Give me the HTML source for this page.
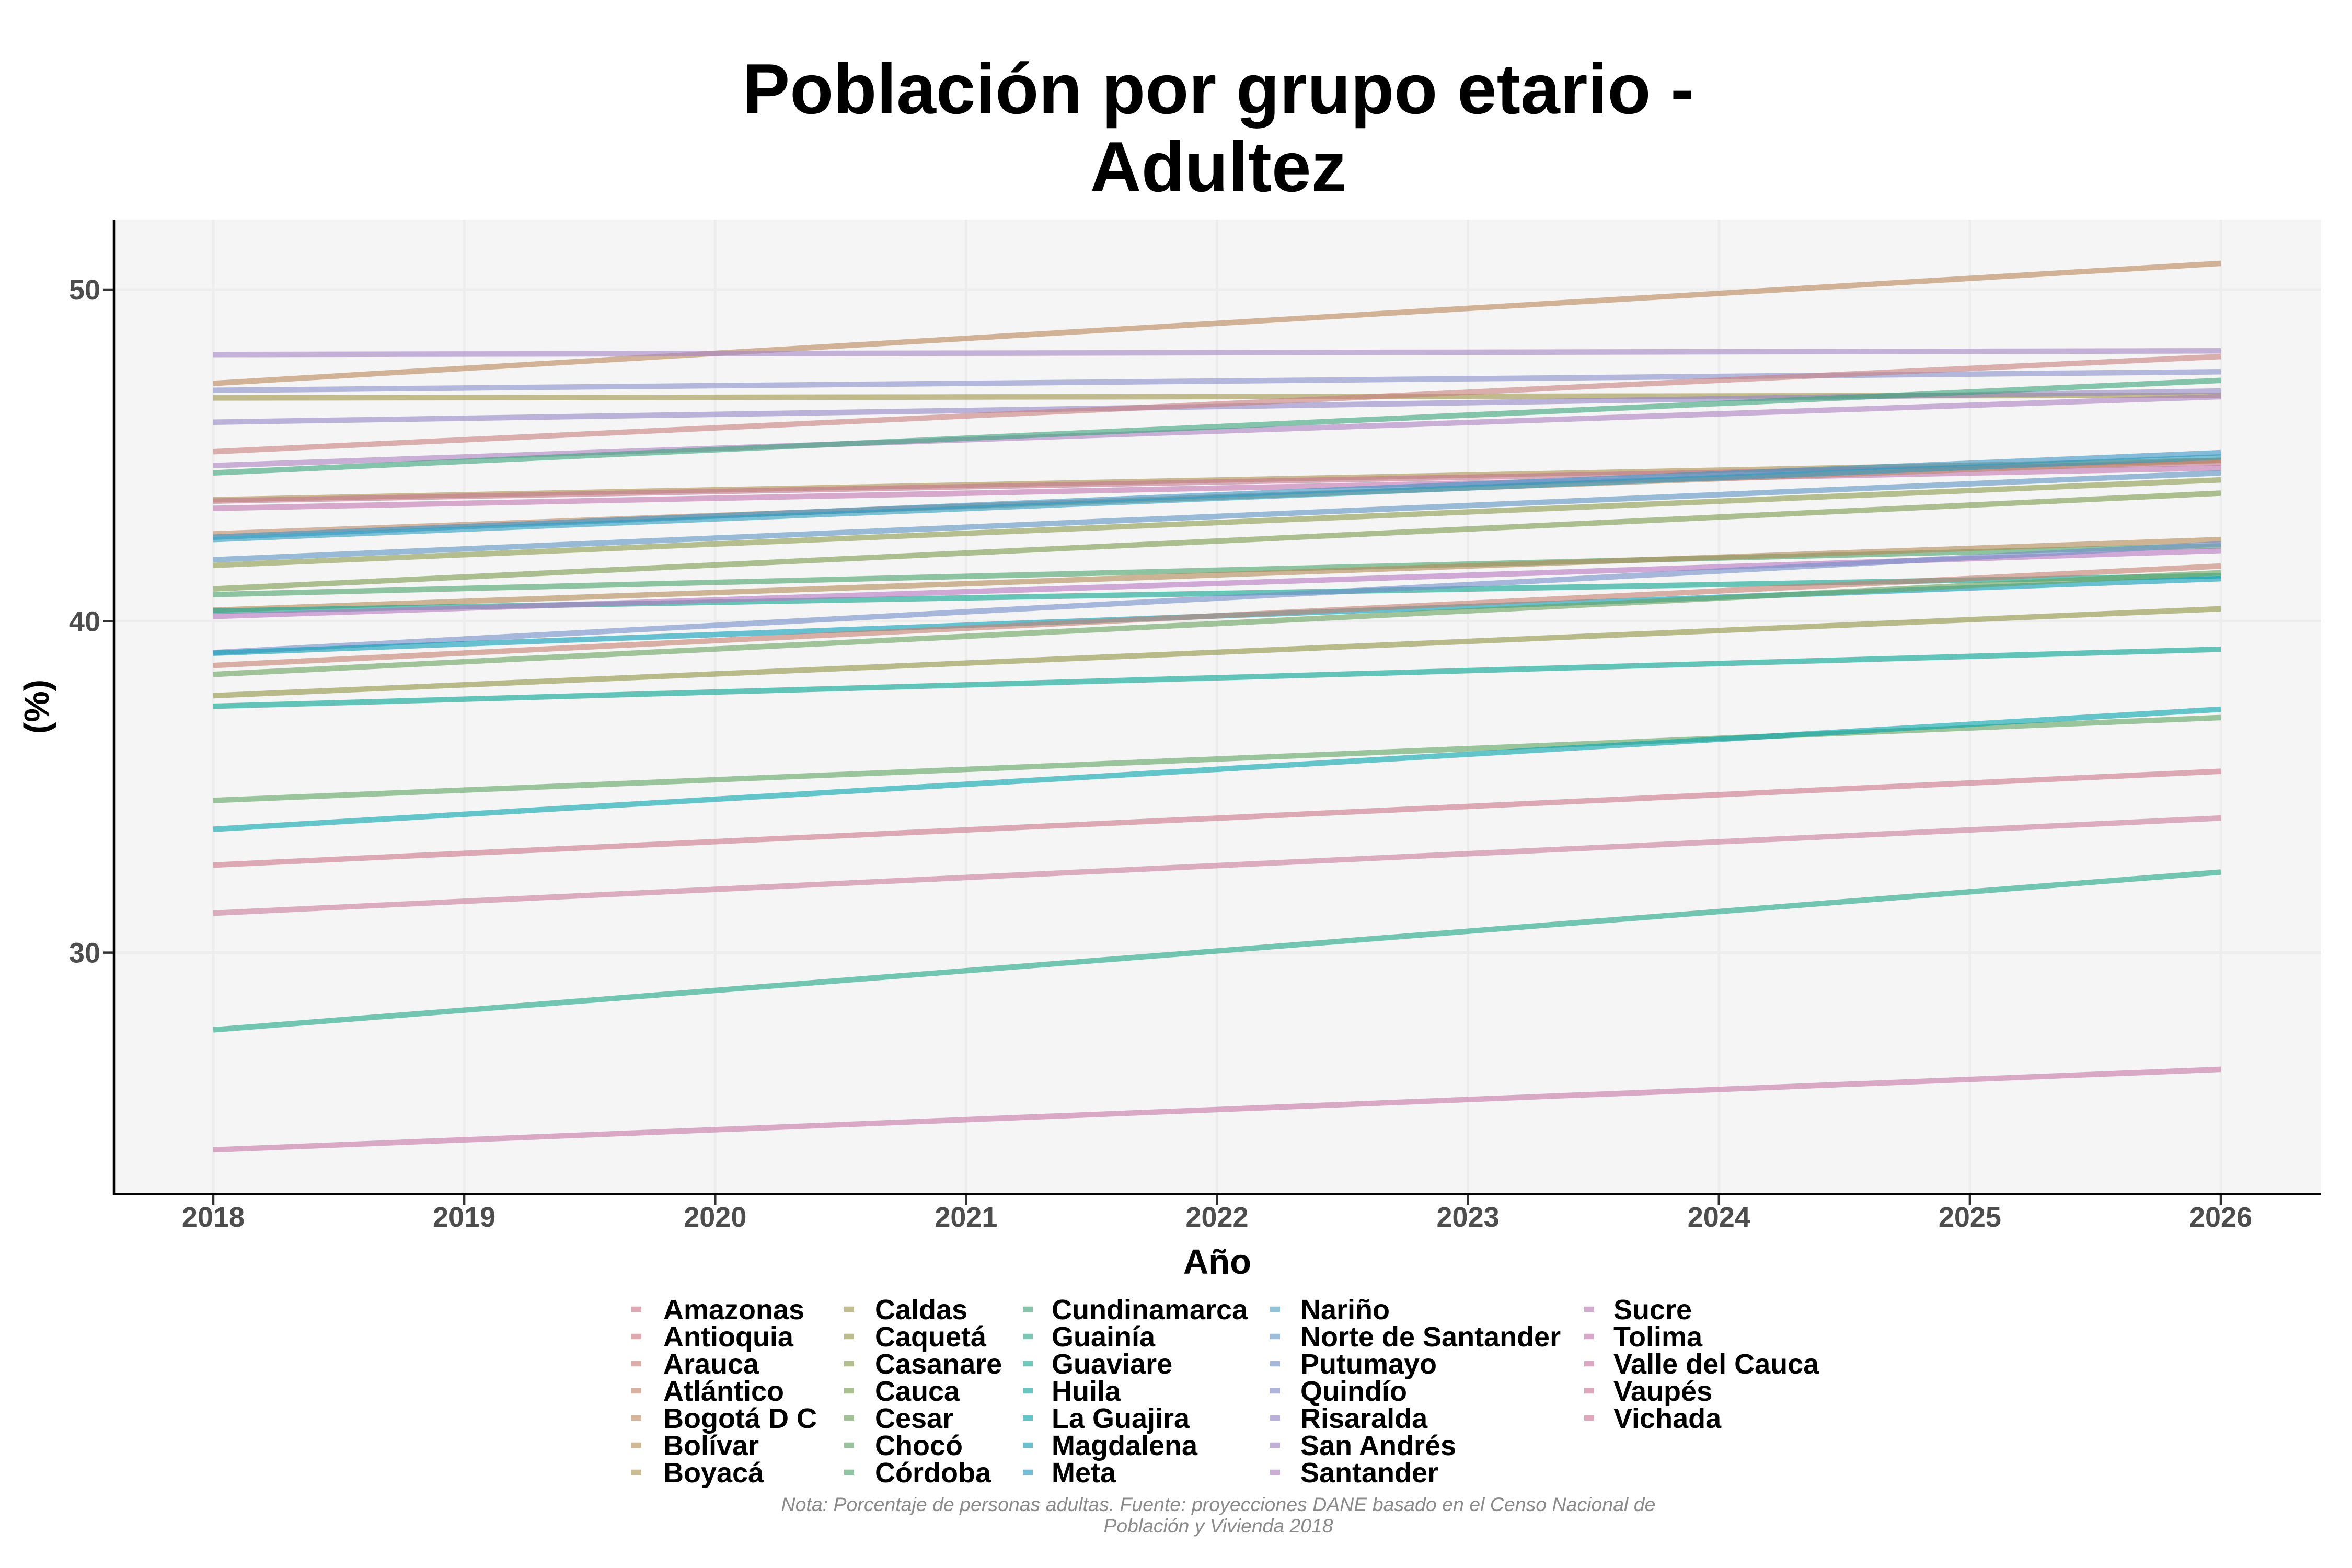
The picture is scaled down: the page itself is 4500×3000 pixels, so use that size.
<!DOCTYPE html>
<html>
<head>
<meta charset="utf-8">
<style>
html,body{margin:0;padding:0;background:#ffffff;}
svg{display:block;}
text{font-family:"Liberation Sans",Arial,sans-serif;}
</style>
</head>
<body>
<svg width="4500" height="3000" viewBox="0 0 4500 3000" xmlns="http://www.w3.org/2000/svg">
<rect x="0" y="0" width="4500" height="3000" fill="#ffffff"/>

<!-- Title -->
<text x="2331" y="217" font-size="136" font-weight="bold" text-anchor="middle" fill="#000">Población por grupo etario -</text>
<text x="2331" y="366" font-size="136" font-weight="bold" text-anchor="middle" fill="#000">Adultez</text>

<!-- Panel -->
<rect x="218" y="420" width="4223" height="1864" fill="#F5F5F5"/>

<!-- Grid -->
<g stroke="#EDEDED" stroke-width="5">
<line x1="218" y1="554" x2="4441" y2="554"/>
<line x1="218" y1="1188.3" x2="4441" y2="1188.3"/>
<line x1="218" y1="1822.6" x2="4441" y2="1822.6"/>
<line x1="408" y1="420" x2="408" y2="2284"/>
<line x1="888.1" y1="420" x2="888.1" y2="2284"/>
<line x1="1368.3" y1="420" x2="1368.3" y2="2284"/>
<line x1="1848.4" y1="420" x2="1848.4" y2="2284"/>
<line x1="2328.5" y1="420" x2="2328.5" y2="2284"/>
<line x1="2808.6" y1="420" x2="2808.6" y2="2284"/>
<line x1="3288.8" y1="420" x2="3288.8" y2="2284"/>
<line x1="3768.9" y1="420" x2="3768.9" y2="2284"/>
<line x1="4249" y1="420" x2="4249" y2="2284"/>
</g>

<!-- Series lines -->
<g stroke-width="10.5" stroke-opacity="0.6" fill="none" stroke-linecap="butt">
<line x1="408" y1="733.5" x2="4249" y2="503.9" stroke="#BB8659"/>
<line x1="408" y1="678.3" x2="4249" y2="671.3" stroke="#A483C5"/>
<line x1="408" y1="746.8" x2="4249" y2="711.3" stroke="#868DC9"/>
<line x1="408" y1="761.4" x2="4249" y2="756.3" stroke="#9D9347"/>
<line x1="408" y1="807.7" x2="4249" y2="748.1" stroke="#9386C5"/>
<line x1="408" y1="864.2" x2="4249" y2="682.1" stroke="#CA7E7F"/>
<line x1="408" y1="890.8" x2="4249" y2="758.9" stroke="#AC7EBF"/>
<line x1="408" y1="904.8" x2="4249" y2="727.8" stroke="#39A479"/>
<line x1="408" y1="956.1" x2="4249" y2="880.7" stroke="#AB904D"/>
<line x1="408" y1="958.7" x2="4249" y2="885.7" stroke="#C57590"/>
<line x1="408" y1="972.6" x2="4249" y2="895.3" stroke="#BF75B1"/>
<line x1="408" y1="1021.5" x2="4249" y2="880.7" stroke="#BB8968"/>
<line x1="408" y1="1027.8" x2="4249" y2="866.1" stroke="#3A92C4"/>
<line x1="408" y1="1032.3" x2="4249" y2="874.3" stroke="#2A9CC0"/>
<line x1="408" y1="1071.0" x2="4249" y2="904.8" stroke="#5B93C2"/>
<line x1="408" y1="1081.7" x2="4249" y2="918.1" stroke="#899A4A"/>
<line x1="408" y1="1126.8" x2="4249" y2="943.5" stroke="#799A4D"/>
<line x1="408" y1="1137.6" x2="4249" y2="1044.3" stroke="#4AA16B"/>
<line x1="408" y1="1167.4" x2="4249" y2="1032.3" stroke="#B18954"/>
<line x1="408" y1="1169.3" x2="4249" y2="1101.4" stroke="#0BA490"/>
<line x1="408" y1="1179.4" x2="4249" y2="1053.2" stroke="#B875BF"/>
<line x1="408" y1="1248.6" x2="4249" y2="1040.5" stroke="#728DC9"/>
<line x1="408" y1="1249.8" x2="4249" y2="1107.1" stroke="#079DB6"/>
<line x1="408" y1="1273.3" x2="4249" y2="1083.0" stroke="#C57E70"/>
<line x1="408" y1="1290.4" x2="4249" y2="1095.7" stroke="#68A15E"/>
<line x1="408" y1="1331.0" x2="4249" y2="1164.8" stroke="#909343"/>
<line x1="408" y1="1351.3" x2="4249" y2="1242.2" stroke="#00A490"/>
<line x1="408" y1="1531.5" x2="4249" y2="1372.9" stroke="#5EA461"/>
<line x1="408" y1="1586.6" x2="4249" y2="1357.0" stroke="#01A4AB"/>
<line x1="408" y1="1655.1" x2="4249" y2="1475.6" stroke="#CC7589"/>
<line x1="408" y1="1747.1" x2="4249" y2="1565.1" stroke="#C9799A"/>
<line x1="408" y1="1970.4" x2="4249" y2="1668.5" stroke="#1BA783"/>
<line x1="408" y1="2200.0" x2="4249" y2="2045.9" stroke="#C575A4"/>
</g>

<!-- Axes -->
<line x1="218" y1="420" x2="218" y2="2286.5" stroke="#000" stroke-width="4.5"/>
<line x1="216" y1="2284.5" x2="4441" y2="2284.5" stroke="#000" stroke-width="4.5"/>

<!-- Ticks -->
<g stroke="#333333" stroke-width="4.5">
<line x1="197" y1="554" x2="216" y2="554"/>
<line x1="197" y1="1188.3" x2="216" y2="1188.3"/>
<line x1="197" y1="1822.6" x2="216" y2="1822.6"/>
<line x1="408" y1="2286" x2="408" y2="2305"/>
<line x1="888.1" y1="2286" x2="888.1" y2="2305"/>
<line x1="1368.3" y1="2286" x2="1368.3" y2="2305"/>
<line x1="1848.4" y1="2286" x2="1848.4" y2="2305"/>
<line x1="2328.5" y1="2286" x2="2328.5" y2="2305"/>
<line x1="2808.6" y1="2286" x2="2808.6" y2="2305"/>
<line x1="3288.8" y1="2286" x2="3288.8" y2="2305"/>
<line x1="3768.9" y1="2286" x2="3768.9" y2="2305"/>
<line x1="4249" y1="2286" x2="4249" y2="2305"/>
</g>

<!-- Tick labels -->
<g font-size="54" font-weight="bold" fill="#4D4D4D">
<text x="192" y="573" text-anchor="end">50</text>
<text x="192" y="1207.3" text-anchor="end">40</text>
<text x="192" y="1841.6" text-anchor="end">30</text>
<text x="408" y="2347" text-anchor="middle">2018</text>
<text x="888.1" y="2347" text-anchor="middle">2019</text>
<text x="1368.3" y="2347" text-anchor="middle">2020</text>
<text x="1848.4" y="2347" text-anchor="middle">2021</text>
<text x="2328.5" y="2347" text-anchor="middle">2022</text>
<text x="2808.6" y="2347" text-anchor="middle">2023</text>
<text x="3288.8" y="2347" text-anchor="middle">2024</text>
<text x="3768.9" y="2347" text-anchor="middle">2025</text>
<text x="4249" y="2347" text-anchor="middle">2026</text>
</g>

<!-- Axis titles -->
<text x="2329" y="2437" font-size="67" font-weight="bold" text-anchor="middle" fill="#000">Año</text>
<text x="0" y="0" font-size="67" font-weight="bold" text-anchor="middle" fill="#000" transform="translate(93,1352) rotate(-90)">(%)</text>

<!-- Legend keys -->
<g>
<rect x="1208" y="2499.75" width="19" height="10.5" fill="#DDA8B4"/>
<rect x="1208" y="2551.75" width="19" height="10.5" fill="#DDABAF"/>
<rect x="1208" y="2603.75" width="19" height="10.5" fill="#DAAFA9"/>
<rect x="1208" y="2655.75" width="19" height="10.5" fill="#D7B2A3"/>
<rect x="1208" y="2707.75" width="19" height="10.5" fill="#D4B69D"/>
<rect x="1208" y="2759.75" width="19" height="10.5" fill="#CFB997"/>
<rect x="1208" y="2811.75" width="19" height="10.5" fill="#C9BB93"/>

<rect x="1615" y="2499.75" width="19" height="10.5" fill="#C2BC90"/>
<rect x="1615" y="2551.75" width="19" height="10.5" fill="#BBBD8F"/>
<rect x="1615" y="2603.75" width="19" height="10.5" fill="#B3BF8F"/>
<rect x="1615" y="2655.75" width="19" height="10.5" fill="#ABC091"/>
<rect x="1615" y="2707.75" width="19" height="10.5" fill="#A2C196"/>
<rect x="1615" y="2759.75" width="19" height="10.5" fill="#99C39C"/>
<rect x="1615" y="2811.75" width="19" height="10.5" fill="#8FC4A3"/>

<rect x="1957" y="2499.75" width="19" height="10.5" fill="#86C5AB"/>
<rect x="1957" y="2551.75" width="19" height="10.5" fill="#7CC6B3"/>
<rect x="1957" y="2603.75" width="19" height="10.5" fill="#72C6BA"/>
<rect x="1957" y="2655.75" width="19" height="10.5" fill="#6BC5C1"/>
<rect x="1957" y="2707.75" width="19" height="10.5" fill="#68C3C8"/>
<rect x="1957" y="2759.75" width="19" height="10.5" fill="#6CC0CE"/>
<rect x="1957" y="2811.75" width="19" height="10.5" fill="#76BDD3"/>

<rect x="2430" y="2499.75" width="19" height="10.5" fill="#92C2D8"/>
<rect x="2430" y="2551.75" width="19" height="10.5" fill="#9DBDDA"/>
<rect x="2430" y="2603.75" width="19" height="10.5" fill="#A6B8DA"/>
<rect x="2430" y="2655.75" width="19" height="10.5" fill="#AEB4DA"/>
<rect x="2430" y="2707.75" width="19" height="10.5" fill="#B9B1D9"/>
<rect x="2430" y="2759.75" width="19" height="10.5" fill="#C2AFD7"/>
<rect x="2430" y="2811.75" width="19" height="10.5" fill="#CAADD3"/>

<rect x="3031" y="2499.75" width="19" height="10.5" fill="#D1ABCE"/>
<rect x="3031" y="2551.75" width="19" height="10.5" fill="#D6A9C8"/>
<rect x="3031" y="2603.75" width="19" height="10.5" fill="#DAA8C2"/>
<rect x="3031" y="2655.75" width="19" height="10.5" fill="#DCA8BC"/>
<rect x="3031" y="2707.75" width="19" height="10.5" fill="#DDA8B7"/>
</g>

<!-- Legend labels -->
<g font-size="54" font-weight="bold" fill="#000">
<text x="1269" y="2524">Amazonas</text>
<text x="1269" y="2576">Antioquia</text>
<text x="1269" y="2628">Arauca</text>
<text x="1269" y="2680">Atlántico</text>
<text x="1269" y="2732">Bogotá D C</text>
<text x="1269" y="2784">Bolívar</text>
<text x="1269" y="2836">Boyacá</text>

<text x="1674" y="2524">Caldas</text>
<text x="1674" y="2576">Caquetá</text>
<text x="1674" y="2628">Casanare</text>
<text x="1674" y="2680">Cauca</text>
<text x="1674" y="2732">Cesar</text>
<text x="1674" y="2784">Chocó</text>
<text x="1674" y="2836">Córdoba</text>

<text x="2012" y="2524">Cundinamarca</text>
<text x="2012" y="2576">Guainía</text>
<text x="2012" y="2628">Guaviare</text>
<text x="2012" y="2680">Huila</text>
<text x="2012" y="2732">La Guajira</text>
<text x="2012" y="2784">Magdalena</text>
<text x="2012" y="2836">Meta</text>

<text x="2488" y="2524">Nariño</text>
<text x="2488" y="2576">Norte de Santander</text>
<text x="2488" y="2628">Putumayo</text>
<text x="2488" y="2680">Quindío</text>
<text x="2488" y="2732">Risaralda</text>
<text x="2488" y="2784">San Andrés</text>
<text x="2488" y="2836">Santander</text>

<text x="3087" y="2524">Sucre</text>
<text x="3087" y="2576">Tolima</text>
<text x="3087" y="2628">Valle del Cauca</text>
<text x="3087" y="2680">Vaupés</text>
<text x="3087" y="2732">Vichada</text>
</g>

<!-- Caption -->
<g font-size="37" font-style="italic" fill="#8A8A8A">
<text x="2331" y="2891" text-anchor="middle" textLength="1673" lengthAdjust="spacingAndGlyphs">Nota: Porcentaje de personas adultas. Fuente: proyecciones DANE basado en el Censo Nacional de</text>
<text x="2331" y="2932" text-anchor="middle" textLength="439" lengthAdjust="spacingAndGlyphs">Población y Vivienda 2018</text>
</g>
</svg>
</body>
</html>
